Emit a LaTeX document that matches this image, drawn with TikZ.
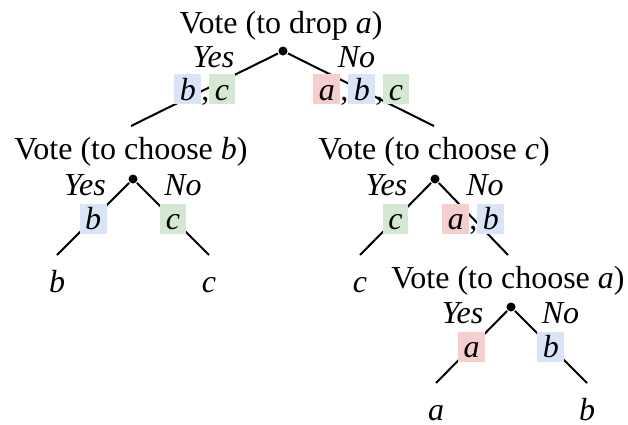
\documentclass[tikz,border=0pt]{standalone}
\usepackage{fontspec}
\setmainfont{Liberation Serif}
\definecolor{boxa}{RGB}{246,206,206}
\definecolor{boxb}{RGB}{218,228,248}
\definecolor{boxc}{RGB}{213,232,212}
\newcommand{\hlbox}[2]{{\setlength{\fboxsep}{0pt}\colorbox{#1}{\rule[-4pt]{0pt}{30pt}\hspace{5.5pt}\textit{#2}\hspace{5.5pt}}}}
\newcommand{\ha}{\hlbox{boxa}{a}}
\newcommand{\hb}{\hlbox{boxb}{b}}
\newcommand{\hc}{\hlbox{boxc}{c}}
\begin{document}
\begin{tikzpicture}[x=1pt,y=-1pt,line width=2pt,
  every node/.style={font=\fontsize{32}{38}\selectfont},
  vote/.style={anchor=north,inner sep=0pt,text height=32pt,text depth=8pt},
  leaf/.style={anchor=north,inner sep=0pt,text height=36pt,text depth=0pt,font=\fontsize{32}{38}\selectfont\itshape},
  dot/.style={circle,fill=black,inner sep=0pt,minimum size=9pt},
  yn/.style={anchor=base,inner sep=0pt,font=\fontsize{32}{38}\selectfont\itshape},
  choice/.style={midway,inner sep=0pt}]
\useasboundingbox (0,0) rectangle (628,424);
\node[vote] (v0) at (281,0) {Vote (to drop \textit{a})};
\node[dot] (d0) at (283,51) {};
\node[vote] (v1) at (131,126) {Vote (to choose \textit{b})};
\node[dot] (d1) at (133,179) {};
\node[vote] (v2) at (434,126) {Vote (to choose \textit{c})};
\node[dot] (d2) at (435,179) {};
\node[vote] (v3) at (508,255) {Vote (to choose \textit{a})};
\node[dot] (d3) at (511,307) {};
\node[leaf] (l1) at (57,255) {b};
\node[leaf] (l2) at (209,255) {c};
\node[leaf] (l3) at (360,255) {c};
\node[leaf] (l4) at (436,383) {a};
\node[leaf] (l5) at (587,383) {b};
\node[yn] (y0) at (213.5,67) {Yes};
\node[yn] (n0) at (356.5,67) {No};
\node[yn] (y1) at (85,195) {Yes};
\node[yn] (n1) at (183,195) {No};
\node[yn] (y2) at (386.5,195) {Yes};
\node[yn] (n2) at (485,195) {No};
\node[yn] (y3) at (462.5,323) {Yes};
\node[yn] (n3) at (560.5,323) {No};
\draw (d0) -- (v1.north) node[choice] {\hb,\hc};
\draw (d0) -- (v2.north) node[choice] {\ha,\hb,\hc};
\draw (d1) -- (l1.north) node[choice] {\hb};
\draw (d1) -- (l2.north) node[choice] {\hc};
\draw (d2) -- (l3.north) node[choice] {\hc};
\draw (d2) -- (v3.north) node[choice] {\ha,\hb};
\draw (d3) -- (l4.north) node[choice] {\ha};
\draw (d3) -- (l5.north) node[choice] {\hb};
\end{tikzpicture}
\end{document}
